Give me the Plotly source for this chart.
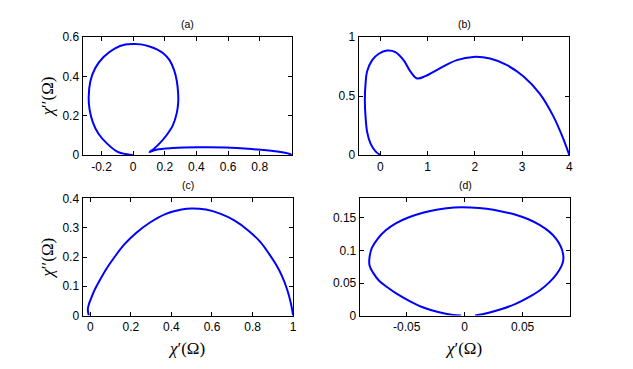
"""Four panel susceptibility loci, (a)-(d), drawn MATLAB style."""

import plotly.graph_objects as go

# panel (a)
a_x = [0.0, -0.05, -0.104, -0.166, -0.219, -0.254, -0.275, -0.281, -0.27,
       -0.24, -0.187, -0.114, -0.05, 0.0, 0.05, 0.104, 0.15, 0.19, 0.23,
       0.26, 0.276, 0.284, 0.285, 0.276, 0.25, 0.21, 0.167, 0.13, 0.104,
       0.146, 0.25, 0.417, 0.583, 0.75, 0.896, 0.99, 1.0]
a_y = [0.0, 0.006, 0.02, 0.06, 0.109, 0.166, 0.23, 0.296, 0.377,
       0.442, 0.499, 0.543, 0.562, 0.565, 0.563, 0.552, 0.538, 0.518, 0.483,
       0.43, 0.377, 0.32, 0.27, 0.215, 0.15, 0.1, 0.06, 0.032, 0.016,
       0.028, 0.036, 0.04, 0.039, 0.031, 0.02, 0.006, 0.0]

# panel (b)
b_x = [0.0, -0.105, -0.211, -0.281, -0.316, -0.33, -0.316, -0.281, -0.175,
       -0.035, 0.141, 0.316, 0.49, 0.633, 0.774, 0.95, 1.266, 1.618, 1.97,
       2.32, 2.67, 3.025, 3.376, 3.66, 3.87, 4.0]
b_y = [0.0, 0.032, 0.1, 0.195, 0.331, 0.466, 0.602, 0.71, 0.805,
       0.859, 0.886, 0.873, 0.805, 0.71, 0.65, 0.669, 0.737, 0.805, 0.832,
       0.818, 0.764, 0.669, 0.52, 0.331, 0.141, 0.0]

# panel (c)
c_x = [-0.007, -0.012, -0.006, 0.005, 0.02, 0.045, 0.08, 0.12, 0.168,
       0.226, 0.291, 0.373, 0.45, 0.5, 0.57, 0.64, 0.71, 0.78, 0.84,
       0.88, 0.915, 0.945, 0.97, 0.988, 1.0]
c_y = [0.0, 0.02, 0.04, 0.06, 0.085, 0.118, 0.16, 0.2, 0.243,
       0.282, 0.316, 0.347, 0.362, 0.366, 0.362, 0.348, 0.325, 0.29, 0.25,
       0.212, 0.175, 0.135, 0.09, 0.045, 0.0]

# panel (d)
d_x = [0.009, 0.02, 0.032, 0.044, 0.055, 0.065, 0.073, 0.079, 0.083, 0.085,
       0.085, 0.083, 0.079, 0.073, 0.065, 0.055, 0.044, 0.032, 0.019, 0.005,
       -0.009, -0.023, -0.036, -0.048, -0.059, -0.068, -0.075, -0.08, -0.082,
       -0.082, -0.079, -0.074, -0.067, -0.058, -0.047, -0.035, -0.022, -0.01,
       -0.003]
d_y = [0.0, 0.004, 0.01, 0.018, 0.028, 0.039, 0.051, 0.063, 0.074, 0.084,
       0.094, 0.106, 0.118, 0.129, 0.139, 0.148, 0.155, 0.16, 0.164, 0.166,
       0.166, 0.163, 0.158, 0.151, 0.142, 0.131, 0.118, 0.104, 0.09,
       0.077, 0.066, 0.054, 0.044, 0.033, 0.022, 0.012, 0.005, 0.001,
       0.0]

titles = ["(a)", "(b)", "(c)", "(d)"]

a_xticks = [-0.2, 0, 0.2, 0.4, 0.6, 0.8]
a_xtext = ["-0.2", "0", "0.2", "0.4", "0.6", "0.8"]
a_yticks = [0, 0.2, 0.4, 0.6]
b_xticks = [0, 1, 2, 3, 4]
b_yticks = [0, 0.5, 1]
c_xticks = [0, 0.2, 0.4, 0.6, 0.8, 1]
c_yticks = [0, 0.1, 0.2, 0.3, 0.4]
d_xticks = [-0.05, 0, 0.05]
d_xtext = ["-0.05", "0", "0.05"]
d_yticks = [0, 0.05, 0.1, 0.15]

# the page body adds an 8px margin all round; keep the figure inside it
OFF = 8
W, H = 633 - 2 * OFF, 369 - 2 * OFF


def px_x(p):
    return (p - OFF) / W


def px_y(p):
    return 1 - (p - OFF) / H


# axes boxes in window pixels: left, right, top, bottom
boxes = [(83, 294, 31, 154), (361, 573, 31, 154),
         (83, 295, 199, 321), (362, 574, 199, 321)]

fig = go.Figure()
for i, (xs, ys) in enumerate([(a_x, a_y), (b_x, b_y), (c_x, c_y), (d_x, d_y)]):
    suffix = "" if i == 0 else str(i + 1)
    fig.add_trace(go.Scatter(
        x=xs, y=ys, mode="lines",
        line=dict(color="#0000ff", width=2, shape="spline", smoothing=1.0),
        xaxis="x" + suffix, yaxis="y" + suffix,
        showlegend=False, hoverinfo="skip"
    ))

tick_font = dict(family="Liberation Sans, Arial", size=12, color="black")
axis_common = dict(
    showgrid=False, zeroline=False, showline=True, linecolor="black",
    linewidth=1, mirror="ticks", ticks="inside", ticklen=4,
    tickcolor="black", tickfont=tick_font,
)

ranges = [
    ([-0.32, 1.005], [0, 0.6], a_xticks, a_xtext, a_yticks),
    ([-0.46, 4.0], [0, 1], b_xticks, None, b_yticks),
    ([-0.038, 1.0], [0, 0.4], c_xticks, None, c_yticks),
    ([-0.0905, 0.0912], [0, 0.18], d_xticks, d_xtext, d_yticks),
]

layout = dict(
    width=W, height=H, margin=dict(l=0, r=0, t=0, b=0),
    paper_bgcolor="white", plot_bgcolor="white", annotations=[],
)
for i, (box, rng) in enumerate(zip(boxes, ranges)):
    suffix = "" if i == 0 else str(i + 1)
    left, right, top, bottom = box
    xr, yr, xt, xtext, yt = rng
    xa = dict(axis_common, domain=[px_x(left), px_x(right)], range=xr,
              tickvals=xt, anchor="y" + suffix)
    if xtext is not None:
        xa["ticktext"] = xtext
    ya = dict(axis_common, domain=[px_y(bottom), px_y(top)], range=yr,
              tickvals=yt, anchor="x" + suffix)
    layout["xaxis" + suffix] = xa
    layout["yaxis" + suffix] = ya
    layout["annotations"].append(dict(
        text=titles[i], x=px_x((left + right) / 2), y=px_y(top - 14),
        xref="paper", yref="paper", showarrow=False,
        xanchor="center", yanchor="middle",
        font=dict(family="Liberation Sans, Arial", size=10.5, color="black")
    ))

label_font = dict(family="Liberation Serif, Times New Roman", size=17,
                  color="black")
ylabel = "<i>χ</i>′′(Ω)"
xlabel = "<i>χ</i>′(Ω)"
for cx, cy in [(48, 93), (48, 261)]:
    layout["annotations"].append(dict(
        text=ylabel, x=px_x(cx), y=px_y(cy), xref="paper", yref="paper",
        textangle=-90, showarrow=False, font=label_font,
        xanchor="center", yanchor="middle"
    ))
for cx, cy in [(188, 355), (466, 355)]:
    layout["annotations"].append(dict(
        text=xlabel, x=px_x(cx), y=px_y(cy), xref="paper", yref="paper",
        showarrow=False, font=label_font,
        xanchor="center", yanchor="middle"
    ))

fig.update_layout(**layout)
fig.write_html("out.html")
